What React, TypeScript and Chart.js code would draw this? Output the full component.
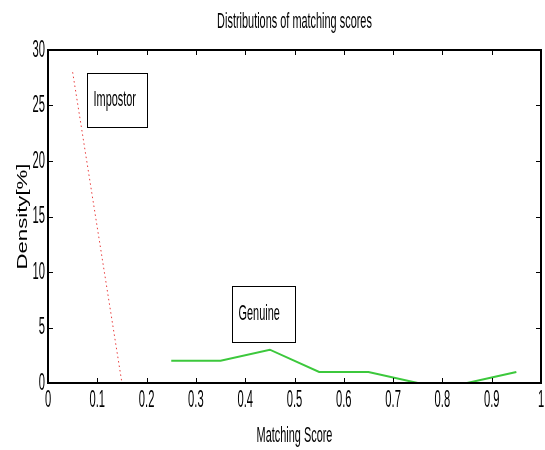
import React, { useEffect, useRef } from "react";
import { Chart, registerables } from "chart.js";

Chart.register(...registerables);

const titleText = "Distributions of matching scores";
const xTitle = "Matching Score";
const yTitle = "Density[%]";

const impostorScores = [0.05, 0.15];
const impostorDensity = [28, 0];

const genuineScores = [0.25, 0.35, 0.45, 0.55, 0.65, 0.75, 0.85, 0.95];
const genuineDensity = [2, 2, 3, 1, 1, 0, 0, 1];

const xTickValues = [0, 0.1, 0.2, 0.3, 0.4, 0.5, 0.6, 0.7, 0.8, 0.9, 1];
const xTickLabels = ["0", "0.1", "0.2", "0.3", "0.4", "0.5", "0.6", "0.7", "0.8", "0.9", "1"];
const yTickValues = [0, 5, 10, 15, 20, 25, 30];
const yTickLabels = ["0", "5", "10", "15", "20", "25", "30"];

const boxLabels = ["Impostor", "Genuine"];
// text boxes in data coordinates: [xMin, xMax, yMin, yMax]
const boxExtents = [
  [0.08, 0.2, 23.1, 27.9],
  [0.373, 0.5, 3.7, 8.7],
];

const FONT = "'Liberation Sans', Arial, sans-serif";
const SX = 0.84; // horizontal squeeze of the (stretched) original raster text
const SY = 1.65; // vertical stretch

function drawText(
  ctx: CanvasRenderingContext2D,
  text: string,
  x: number,
  y: number,
  size: number,
  align: CanvasTextAlign,
  sx = SX,
  sy = SY,
  rotate = false
) {
  ctx.save();
  ctx.translate(x, y);
  if (rotate) ctx.rotate(-Math.PI / 2);
  ctx.scale(sx, sy);
  ctx.font = `${size}px ${FONT}`;
  ctx.textAlign = align;
  ctx.textBaseline = "middle";
  ctx.fillStyle = "#000";
  ctx.fillText(text, 0, 0);
  ctx.restore();
}

const matlabAxes = {
  id: "matlabAxes",
  afterDatasetsDraw(chart: any) {
    const { ctx, chartArea: a, scales } = chart;
    const xs = scales.x;
    const ys = scales.y;
    ctx.save();
    ctx.strokeStyle = "#000";
    ctx.lineWidth = 1;
    const tl = 5;
    ctx.beginPath();
    xs.ticks.forEach((t: any) => {
      const px = Math.round(xs.getPixelForValue(t.value)) + 0.5;
      ctx.moveTo(px, a.bottom);
      ctx.lineTo(px, a.bottom - tl);
      ctx.moveTo(px, a.top);
      ctx.lineTo(px, a.top + tl);
    });
    ys.ticks.forEach((t: any) => {
      const py = Math.round(ys.getPixelForValue(t.value)) + 0.5;
      ctx.moveTo(a.left, py);
      ctx.lineTo(a.left + tl, py);
      ctx.moveTo(a.right, py);
      ctx.lineTo(a.right - tl, py);
    });
    ctx.stroke();
    ctx.lineWidth = 2;
    ctx.strokeRect(a.left, a.top, a.right - a.left, a.bottom - a.top);

    // tick labels
    xs.ticks.forEach((t: any) => {
      const i = xTickValues.findIndex((v) => Math.abs(v - t.value) < 1e-9);
      drawText(ctx, xTickLabels[i], xs.getPixelForValue(t.value), a.bottom + 17, 14, "center", 0.8, 1.7);
    });
    ys.ticks.forEach((t: any) => {
      const i = yTickValues.findIndex((v) => Math.abs(v - t.value) < 1e-9);
      drawText(ctx, yTickLabels[i], a.left - 3, ys.getPixelForValue(t.value), 14, "right", 0.8, 1.7);
    });

    // titles
    const cx = (a.left + a.right) / 2;
    drawText(ctx, titleText, cx, 22, 13, "center");
    drawText(ctx, xTitle, cx, a.bottom + 53, 13, "center");
    ctx.font = `15px ${FONT}`;
    const yw = ctx.measureText(yTitle).width;
    drawText(ctx, yTitle, 23, (a.top + a.bottom) / 2, 15, "center", 106 / yw, 1.0, true);

    // text boxes
    ctx.lineWidth = 1;
    boxLabels.forEach((lab, i) => {
      const [x0, x1, y0, y1] = boxExtents[i];
      const l = Math.round(xs.getPixelForValue(x0)) + 0.5;
      const r = Math.round(xs.getPixelForValue(x1)) + 0.5;
      const t = Math.round(ys.getPixelForValue(y1)) + 0.5;
      const b = Math.round(ys.getPixelForValue(y0)) + 0.5;
      ctx.fillStyle = "#fff";
      ctx.fillRect(l, t, r - l, b - t);
      ctx.strokeStyle = "#000";
      ctx.strokeRect(l, t, r - l, b - t);
      drawText(ctx, lab, l + 6, (t + b) / 2, 13, "left");
    });
    ctx.restore();
  },
};

export default function App() {
  const ref = useRef<HTMLCanvasElement | null>(null);
  useEffect(() => {
    document.body.style.margin = "0";
    const canvas = ref.current;
    if (!canvas) return;
    const chart = new Chart(canvas, {
      type: "line",
      data: {
        datasets: [
          {
            label: "Impostor",
            data: impostorScores.map((x, i) => ({ x, y: impostorDensity[i] })),
            borderColor: "#e83c3c",
            borderWidth: 1,
            borderDash: [1.5, 3],
            pointRadius: 0,
            fill: false,
          },
          {
            label: "Genuine",
            data: genuineScores.map((x, i) => ({ x, y: genuineDensity[i] })),
            borderColor: "#3cc83c",
            borderWidth: 2,
            pointRadius: 0,
            fill: false,
          },
        ],
      },
      options: {
        animation: false,
        responsive: true,
        maintainAspectRatio: false,
        layout: { padding: { left: 0, right: 4, top: 50, bottom: 0 } },
        plugins: {
          legend: { display: false },
          tooltip: { enabled: false },
          title: { display: false },
        },
        scales: {
          x: {
            type: "linear",
            min: 0,
            max: 1,
            grid: { display: false, drawTicks: false },
            border: { display: false },
            afterBuildTicks: (s: any) => {
              s.ticks = xTickValues.map((v) => ({ value: v }));
            },
            afterFit: (s: any) => {
              s.height = 67;
            },
            ticks: { display: false },
          },
          y: {
            type: "linear",
            min: 0,
            max: 30,
            grid: { display: false, drawTicks: false },
            border: { display: false },
            afterBuildTicks: (s: any) => {
              s.ticks = yTickValues.map((v) => ({ value: v }));
            },
            afterFit: (s: any) => {
              s.width = 48;
            },
            ticks: { display: false },
          },
        },
      },
      plugins: [matlabAxes],
    });
    return () => chart.destroy();
  }, []);
  return (
    <div style={{ width: 545, height: 450, position: "relative", background: "#fff" }}>
      <canvas ref={ref} />
    </div>
  );
}
